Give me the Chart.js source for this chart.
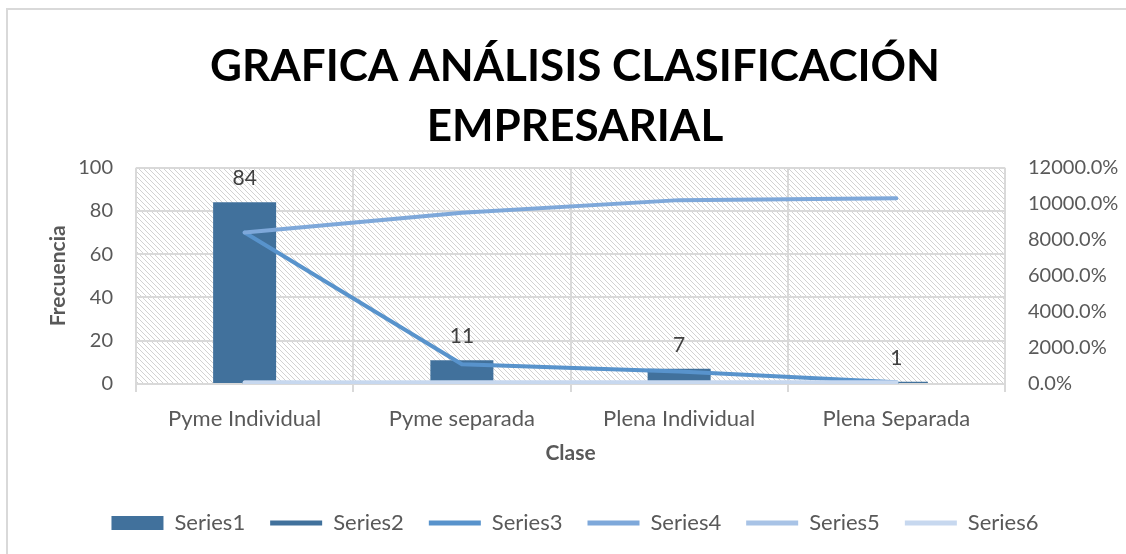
<!DOCTYPE html>
<html>
<head>
<meta charset="utf-8">
<script src="https://cdn.jsdelivr.net/npm/chart.js@4"></script>
<style>
  body { margin: 0; background: #fff; }
  #wrap { position: relative; width: 1126px; height: 554px; overflow: hidden; }
  #frame { position: absolute; left: 6px; top: 8px; width: 1200px; height: 600px;
           border-left: 2px solid #d9d9d9; border-top: 2px solid #d9d9d9; pointer-events: none; }
</style>
</head>
<body>
<div id="wrap">
  <canvas id="chart" width="1126" height="554"></canvas>
  <div id="frame"></div>
</div>
<script>
const categories = ["Pyme Individual", "Pyme separada", "Plena Individual", "Plena Separada"];
const series1 = [84, 11, 7, 1];
const series2 = [0, 0, 0, 0];
const series3 = [84, 11, 7, 1];
const series4 = [84, 95, 102, 103];
const series5 = [0.8155, 0.1068, 0.068, 0.0097];
const series6 = [0.8155, 0.9223, 0.9903, 1.0];
const chartTitle = ["GRAFICA ANÁLISIS CLASIFICACIÓN", "EMPRESARIAL"];

const textColor = "#595959";
const gridColor = "#d9d9d9";

// diagonal hatch for the plot area
function makeHatch() {
  const c = document.createElement("canvas");
  c.width = 5; c.height = 5;
  const g = c.getContext("2d");
  g.fillStyle = "#ffffff";
  g.fillRect(0, 0, 5, 5);
  g.fillStyle = "#d2d2d2";
  for (let i = 0; i < 5; i++) g.fillRect(i, i, 1, 1);
  return g.createPattern(c, "repeat");
}

const hatchPlugin = {
  id: "hatch",
  beforeDraw(chart) {
    const { ctx, chartArea: a } = chart;
    ctx.save();
    ctx.fillStyle = makeHatch();
    ctx.fillRect(a.left, a.top, a.right - a.left, a.bottom - a.top);
    ctx.restore();
  }
};

const barLabels = {
  id: "barLabels",
  afterDatasetsDraw(chart) {
    const { ctx } = chart;
    const meta = chart.getDatasetMeta(0);
    ctx.save();
    ctx.font = "21px Lato";
    ctx.fillStyle = "#404040";
    ctx.textAlign = "center";
    ctx.textBaseline = "middle";
    meta.data.forEach((bar, i) => {
      ctx.fillText(String(series1[i]), bar.x, bar.y - 24);
    });
    ctx.restore();
  }
};

function lineSet(label, data, color, order) {
  return {
    type: "line",
    label: label,
    data: data,
    yAxisID: "y1",
    borderColor: color,
    backgroundColor: color,
    borderWidth: 4,
    borderCapStyle: "round",
    pointRadius: 0,
    tension: 0,
    order: order
  };
}

const ctx = document.getElementById("chart").getContext("2d");
new Chart(ctx, {
  type: "bar",
  data: {
    labels: categories,
    datasets: [
      {
        type: "bar",
        label: "Series1",
        data: series1,
        yAxisID: "y",
        backgroundColor: "#41719c",
        barPercentage: 0.29,
        categoryPercentage: 1,
        order: 6
      },
      lineSet("Series2", series2, "#41719c", 5),
      lineSet("Series3", series3, "#5893cc", 4),
      lineSet("Series4", series4, "#7ea8da", 3),
      lineSet("Series5", series5, "#a8c3e6", 2),
      lineSet("Series6", series6, "#c7d8ef", 1)
    ]
  },
  options: {
    responsive: false,
    animation: false,
    layout: { padding: { left: 24, right: 0, top: 0, bottom: 10 } },
    plugins: {
      title: {
        display: true,
        text: chartTitle,
        color: "#000000",
        font: { family: "Lato", size: 44, weight: "bold", lineHeight: 1.36 },
        padding: { top: 37, bottom: 11 }
      },
      legend: {
        position: "bottom",
        maxHeight: 60,
        labels: {
          usePointStyle: true,
          pointStyleWidth: 52,
          boxHeight: 14,
          padding: 25,
          color: textColor,
          font: { family: "Lato", size: 22 },
          sort: (a, b) => a.datasetIndex - b.datasetIndex,
          generateLabels(chart) {
            const items = Chart.defaults.plugins.legend.labels.generateLabels(chart);
            items.forEach(item => {
              if (item.datasetIndex === 0) {
                item.pointStyle = "rect";
                item.lineWidth = 0;
              } else {
                item.pointStyle = "line";
                item.lineWidth = 5;
              }
            });
            return items;
          }
        }
      },
      tooltip: { enabled: false }
    },
    scales: {
      x: {
        offset: true,
        grid: { offset: true, color: gridColor, lineWidth: 2, tickLength: 8, tickColor: gridColor },
        border: { color: gridColor, width: 2 },
        ticks: { color: textColor, font: { family: "Lato", size: 22 }, padding: 14, maxRotation: 0 },
        title: {
          display: true, text: "Clase", color: textColor,
          font: { family: "Lato", size: 21, weight: "bold" },
          padding: { top: 0, bottom: 21 }
        },
        afterFit(scale) { scale.height = 103; }
      },
      y: {
        position: "left",
        min: 0, max: 100,
        ticks: { stepSize: 20, color: textColor, font: { family: "Lato", size: 20 }, padding: 23 },
        grid: { color: gridColor, lineWidth: 2, drawTicks: false },
        border: { display: false },
        title: {
          display: true, text: "Frecuencia", color: textColor,
          font: { family: "Lato", size: 21, weight: "bold" },
          padding: { top: 22, bottom: 0 }
        },
        afterFit(scale) { scale.width = 112; }
      },
      y1: {
        position: "right",
        min: 0, max: 120,
        ticks: {
          stepSize: 20, color: textColor, font: { family: "Lato", size: 20 }, padding: 23,
          callback: v => (v * 100).toFixed(1) + "%"
        },
        grid: { drawOnChartArea: false, drawTicks: false },
        border: { display: false },
        afterFit(scale) { scale.width = 121; }
      }
    }
  },
  plugins: [hatchPlugin, barLabels]
});
</script>
</body>
</html>
